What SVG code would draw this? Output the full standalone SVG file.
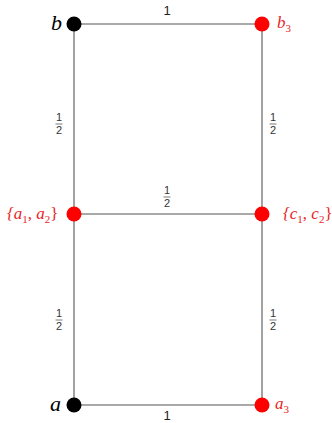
<svg xmlns="http://www.w3.org/2000/svg" width="332" height="423" viewBox="0 0 332 423">
<style>
.edge{stroke:#555;stroke-width:1.1;fill:none}
.blk{fill:#000}
.red{fill:#f00}
.lbl{font-family:"Liberation Serif",serif;font-style:italic}
.rl{fill:#e8251f;font-size:17px}
.num{font-family:"Liberation Sans",sans-serif;font-size:11px;fill:#333;text-anchor:middle}
.one{font-family:"Liberation Sans",sans-serif;font-size:13px;fill:#222;text-anchor:middle}
.bar{stroke:#555;stroke-width:0.8}
</style>
<rect width="332" height="423" fill="#fff"/>
<g id="connectors">
<line class="edge" x1="74" y1="24" x2="262" y2="24"/>
<line class="edge" x1="74" y1="214" x2="262" y2="214"/>
<line class="edge" x1="74" y1="405" x2="262" y2="405"/>
<line class="edge" x1="74" y1="24" x2="74" y2="405"/>
<line class="edge" x1="262" y1="24" x2="262" y2="405"/>
<text class="one" x="167" y="15">1</text>
<text class="one" x="167" y="420">1</text>
<g><text class="num" x="59" y="121">1</text><line class="bar" x1="55.5" y1="124" x2="62.5" y2="124"/><text class="num" x="59" y="134">2</text></g>
<g><text class="num" x="273" y="121">1</text><line class="bar" x1="269.5" y1="124" x2="276.5" y2="124"/><text class="num" x="273" y="134">2</text></g>
<g><text class="num" x="167" y="194">1</text><line class="bar" x1="163.5" y1="197" x2="170.5" y2="197"/><text class="num" x="167" y="207">2</text></g>
<g><text class="num" x="59" y="317">1</text><line class="bar" x1="55.5" y1="320" x2="62.5" y2="320"/><text class="num" x="59" y="330">2</text></g>
<g><text class="num" x="273" y="317">1</text><line class="bar" x1="269.5" y1="320" x2="276.5" y2="320"/><text class="num" x="273" y="330">2</text></g>
</g>
<g id="node-b"><circle class="blk" cx="74" cy="24" r="7.5"/><text class="lbl" x="51" y="30" font-size="22">b</text></g>
<g id="node-b3"><circle class="red" cx="262" cy="24" r="7.5"/><text class="lbl rl" x="277" y="28">b<tspan font-size="11" dy="4" font-style="normal">3</tspan></text></g>
<g id="node-a12"><circle class="red" cx="74" cy="214" r="7.5"/><text class="lbl rl" x="7" y="219">{a<tspan font-size="11" dy="4" font-style="normal">1</tspan><tspan dy="-4" font-style="normal">, </tspan>a<tspan font-size="11" dy="4" font-style="normal">2</tspan><tspan dy="-4" font-style="normal">}</tspan></text></g>
<g id="node-c12"><circle class="red" cx="262" cy="214" r="7.5"/><text class="lbl rl" x="283" y="219">{c<tspan font-size="11" dy="4" font-style="normal">1</tspan><tspan dy="-4" font-style="normal">, </tspan>c<tspan font-size="11" dy="4" font-style="normal">2</tspan><tspan dy="-4" font-style="normal">}</tspan></text></g>
<g id="node-a"><circle class="blk" cx="74" cy="405" r="7.5"/><text class="lbl" x="50" y="411" font-size="22">a</text></g>
<g id="node-a3"><circle class="red" cx="262" cy="405" r="7.5"/><text class="lbl rl" x="275" y="409">a<tspan font-size="11" dy="4" font-style="normal">3</tspan></text></g>
</svg>
